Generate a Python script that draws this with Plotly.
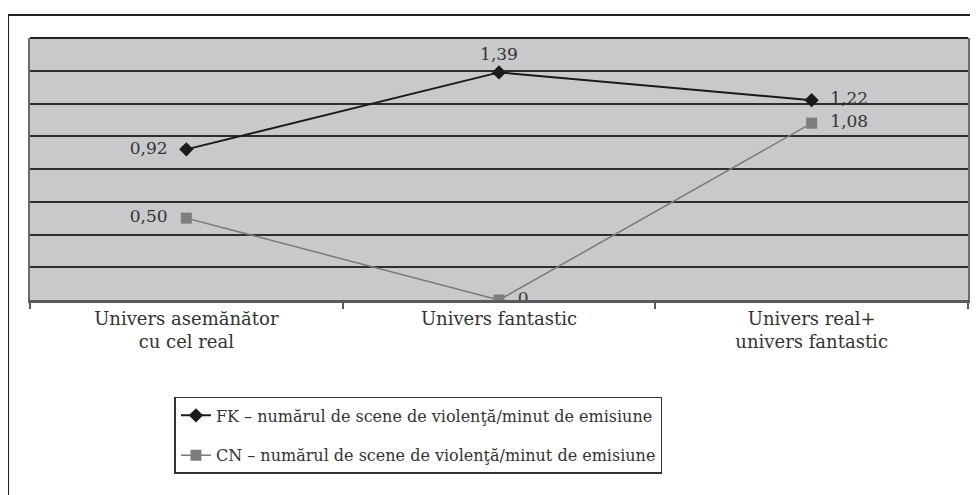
import plotly.graph_objects as go

categories = ["Univers asemănător<br>cu cel real", "Univers fantastic", "Univers real+<br>univers fantastic"]
fk_values = [0.92, 1.39, 1.22]
cn_values = [0.50, 0.0, 1.08]
fk_name = "FK – numărul de scene de violenţă/minut de emisiune"
cn_name = "CN – numărul de scene de violenţă/minut de emisiune"

SERIF = "DejaVu Serif"


def fmt(v):
    return "0" if v == 0 else f"{v:.2f}".replace(".", ",")


fig = go.Figure()

fig.add_trace(go.Scatter(
    x=categories, y=fk_values, name=fk_name, legendgroup="fk",
    mode="lines+markers+text",
    line=dict(color="#1a1a1a", width=2),
    marker=dict(symbol="diamond", size=11, color="#1a1a1a"),
    text=[fmt(fk_values[0]) + "  ", fmt(fk_values[1]), "  " + fmt(fk_values[2])],
    textposition=["middle left", "top center", "middle right"],
    textfont=dict(family=SERIF, size=17, color="#333333"),
))

fig.add_trace(go.Scatter(
    x=categories, y=cn_values, name=cn_name, legendgroup="cn",
    mode="lines+markers+text",
    line=dict(color="#7a7a7a", width=1.5),
    marker=dict(symbol="square", size=11, color="#7d7d7d"),
    text=[fmt(cn_values[0]) + "  ", "  " + fmt(cn_values[1]), "  " + fmt(cn_values[2])],
    textposition=["middle left", "middle right", "middle right"],
    textfont=dict(family=SERIF, size=17, color="#333333"),
))

# outer frame
fig.add_shape(type="rect", xref="paper", yref="paper",
              x0=-0.0234, x1=1.0053, y0=-0.8, y1=1.0878,
              line=dict(color="#222222", width=2), layer="below")
# top border of plot area
fig.add_shape(type="line", xref="paper", yref="paper",
              x0=0, x1=1, y0=1, y1=1,
              line=dict(color="#222222", width=2))

fig.update_layout(
    width=970, height=487,
    paper_bgcolor="white",
    plot_bgcolor="#c9c9cb",
    font=dict(family=SERIF, color="#333333", size=17),
    margin=dict(l=22, r=8, t=30, b=195),
    showlegend=True,
    legend=dict(
        x=0.154, y=-0.37, xanchor="left", yanchor="top",
        bordercolor="#333333", borderwidth=1.5,
        bgcolor="white",
        font=dict(family=SERIF, size=16, color="#333333"),
        tracegroupgap=16,
    ),
    xaxis=dict(
        range=[-0.5, 2.5],
        showgrid=False,
        showline=True, linecolor="#5a5a5a", linewidth=3,
        ticks="outside", tickson="boundaries", ticklen=6,
        tickcolor="#5a5a5a", tickwidth=1.5,
        tickfont=dict(family=SERIF, size=18, color="#333333"),
        fixedrange=True,
    ),
    yaxis=dict(
        range=[0, 1.6], dtick=0.2,
        showgrid=True, gridcolor="#2e2e2e", gridwidth=2,
        showticklabels=False, zeroline=False,
        showline=True, mirror=True, linecolor="#6a6a6a", linewidth=2,
        fixedrange=True,
    ),
)

fig.write_html("out.html")
